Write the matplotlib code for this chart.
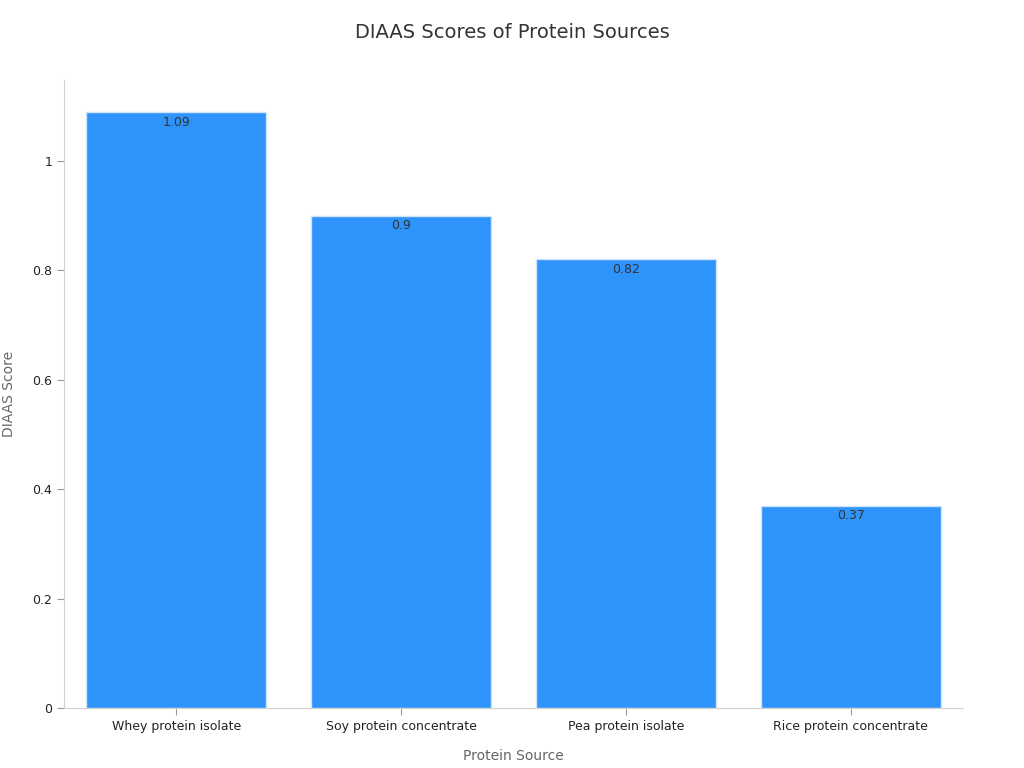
import matplotlib
matplotlib.use("Agg")
import matplotlib.pyplot as plt

categories = ["Whey protein isolate", "Soy protein concentrate", "Pea protein isolate", "Rice protein concentrate"]
values = [1.09, 0.9, 0.82, 0.37]

fig = plt.figure(figsize=(10.24, 7.68), dpi=100)
ax = fig.add_axes([64/1024, 1-708/768, (963-64)/1024, (708-80)/768])
x = range(len(categories))
bars = ax.bar(x, values, width=0.8, color="#2E93FA", edgecolor="#cfe3fb", linewidth=1)
for xi, v in zip(x, values):
    ax.text(xi, v - 0.007, f"{v:g}", ha="center", va="top", fontsize=9, color="#333333")
ax.set_xlim(-0.5, 3.5)
ax.set_ylim(0, 1.148)
ax.set_xticks(list(x))
ax.set_xticklabels(categories, fontsize=9, color="#222222")
ax.set_yticks([0, 0.2, 0.4, 0.6, 0.8, 1])
ax.set_yticklabels(["0", "0.2", "0.4", "0.6", "0.8", "1"], fontsize=9, color="#222222")
for s in ["top", "right"]:
    ax.spines[s].set_visible(False)
for s in ["left", "bottom"]:
    ax.spines[s].set_color("#d0d0d0")
ax.tick_params(colors="#999999", labelcolor="#222222", length=5)
ax.set_xlabel("Protein Source", fontsize=10, color="#666666", labelpad=12)
ax.set_ylabel("DIAAS Score", fontsize=10, color="#666666", labelpad=12)
fig.text(0.5, 1-33/768, "DIAAS Scores of Protein Sources", ha="center", va="center", fontsize=14, color="#333333")
fig.savefig("out.png", dpi=100)
